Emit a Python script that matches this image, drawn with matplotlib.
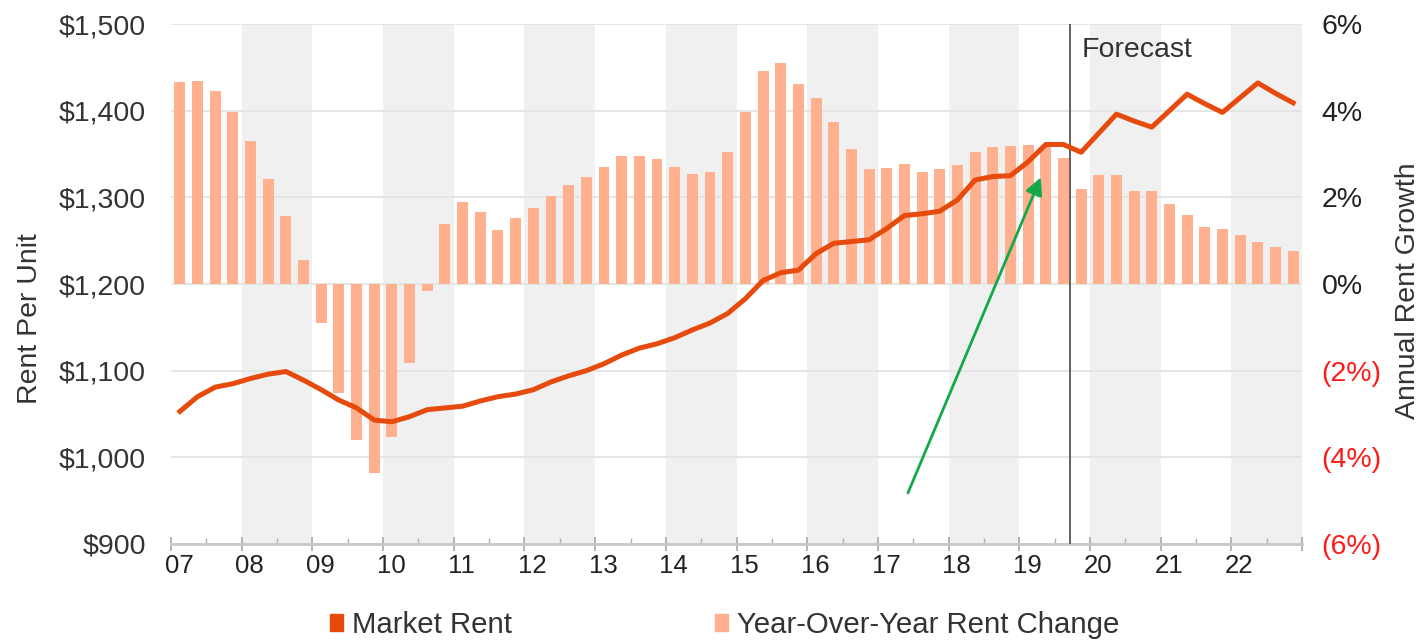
import numpy as np
import matplotlib
matplotlib.use("Agg")
import matplotlib.pyplot as plt
from matplotlib.patches import Patch
from matplotlib.transforms import ScaledTranslation

plt.rcParams['font.family'] = ['Liberation Sans', 'DejaVu Sans']

# quarterly data, 2007 Q1 .. 2022 Q4
start_year = 2007
years = list(range(2007, 2023))
year_labels = ['07', '08', '09', '10', '11', '12', '13', '14', '15', '16',
               '17', '18', '19', '20', '21', '22', '']

# market rent ($ per unit)
market_rent = [1053, 1070, 1081, 1085,
               1091, 1096, 1099, 1089,
               1078, 1066, 1057, 1043,
               1041, 1047, 1055, 1057,
               1059, 1065, 1070, 1073,
               1078, 1087, 1094, 1100,
               1108, 1118, 1126, 1131,
               1138, 1147, 1155, 1166,
               1183, 1204, 1213, 1216,
               1235, 1247, 1249, 1251,
               1264, 1279, 1281, 1284,
               1297, 1320, 1324, 1325,
               1341, 1361, 1361, 1352,
               1374, 1396, 1388, 1381,
               1400, 1419, 1408, 1398,
               1415, 1432, 1420, 1409]

# year-over-year rent change (%)
yoy_change = [4.66, 4.69, 4.46, 3.98,
              3.31, 2.42, 1.58, 0.55,
              -0.91, -2.52, -3.59, -4.36,
              -3.54, -1.83, -0.16, 1.39,
              1.89, 1.66, 1.24, 1.52,
              1.75, 2.02, 2.29, 2.46,
              2.71, 2.96, 2.96, 2.88,
              2.69, 2.53, 2.59, 3.05,
              3.98, 4.91, 5.11, 4.61,
              4.29, 3.73, 3.11, 2.66,
              2.68, 2.76, 2.58, 2.66,
              2.74, 3.04, 3.16, 3.19,
              3.21, 3.17, 2.91, 2.19,
              2.52, 2.52, 2.14, 2.14,
              1.85, 1.60, 1.32, 1.26,
              1.12, 0.98, 0.86, 0.77]

rent_ticks = [900, 1000, 1100, 1200, 1300, 1400, 1500]
pct_ticks = [-6, -4, -2, 0, 2, 4, 6]
forecast_start = 2019.72

line_color = '#e64a0c'
bar_color = '#ffb08f'

x = start_year + 0.125 + 0.25 * np.arange(len(market_rent))

fig, ax = plt.subplots(figsize=(14.22, 6.4), dpi=100)
fig.subplots_adjust(left=0.1203, right=0.9156, top=0.9625, bottom=0.15)
ax2 = ax.twinx()
ax.set_zorder(2)
ax2.set_zorder(1)
ax.patch.set_visible(False)

# shaded years
for y in years[1::2]:
    ax2.axvspan(y, y + 1, color='#f0f0f0', zorder=0, lw=0)

ax2.bar(x, yoy_change, width=0.155, color=bar_color, zorder=2)
ax2.set_ylim(-6, 6)
ax2.set_yticks(pct_ticks)
lbls = ax2.set_yticklabels(['(%d%%)' % -v if v < 0 else '%d%%' % v for v in pct_ticks])
for l, v in zip(lbls, pct_ticks):
    l.set_color('#ff1a1a' if v < 0 else '#222222')
ax2.set_axisbelow(True)
ax2.grid(axis='y', color='#e3e3e3', lw=1.3, zorder=0.5)
ax2.tick_params(axis='y', length=0, pad=14, labelsize=20.5)

ax.plot(x, market_rent, color=line_color, lw=3.6, solid_joinstyle='round', zorder=5)
ax.set_ylim(900, 1500)
ax.set_yticks(rent_ticks)
ax.set_yticklabels(['${:,}'.format(v) for v in rent_ticks], color='#333333')
ax.tick_params(axis='y', length=0, pad=18, labelsize=20.5)

ax.set_xlim(2007, 2023)
ax.set_xticks(range(2007, 2024))
ax.set_xticklabels(year_labels)
ax.set_xticks(np.arange(2007.5, 2023, 1), minor=True)
ax.tick_params(axis='x', which='major', direction='inout', length=10, width=1.2,
               color='#a8a8a8', labelsize=18.5, pad=2, labelcolor='#222222')
ax.tick_params(axis='x', which='minor', direction='in', length=4, width=1.0, color='#b0b0b0')
off = ScaledTranslation(8 / 100, 0, fig.dpi_scale_trans)
for l in ax.get_xticklabels():
    l.set_transform(l.get_transform() + off)

for s in ['top', 'left', 'right']:
    ax.spines[s].set_visible(False)
for s in ax2.spines.values():
    s.set_visible(False)
ax.spines['bottom'].set_color('#c8c8c8')
ax.spines['bottom'].set_linewidth(2)

ax.axvline(forecast_start, color='#555555', lw=1.3, zorder=4)
ax.text(forecast_start + 0.16, 1470, 'Forecast', fontsize=20.5, color='#333333', va='center')

ax.annotate('', xy=(2019.32, 1326), xytext=(2017.41, 956),
            arrowprops=dict(arrowstyle='-|>', color='#14a84a', lw=2, mutation_scale=26))

fig.text(0.0211, 0.503, 'Rent Per Unit', rotation=90, ha='center', va='center',
         fontsize=20.5, color='#333333')
fig.text(0.990, 0.546, 'Annual Rent Growth', rotation=90, ha='center', va='center',
         fontsize=20.5, color='#333333')

handles = [Patch(color=line_color), Patch(color=bar_color)]
fig.legend(handles, ['Market Rent', 'Year-Over-Year Rent Change'], loc='center',
           bbox_to_anchor=(0.5095, 0.023), ncol=2, frameon=False, fontsize=21.2,
           handlelength=0.45, handleheight=0.5, handletextpad=0.3, columnspacing=6.9,
           labelcolor='#333333')

fig.savefig('out.png', dpi=100)
